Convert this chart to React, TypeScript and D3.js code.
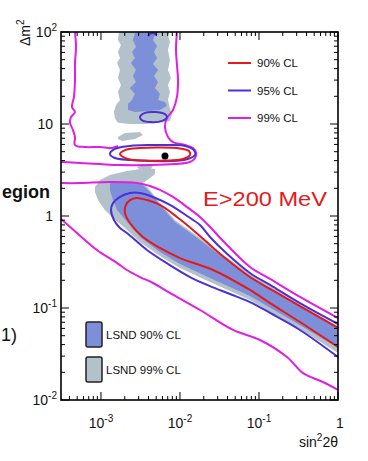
import React from 'react';
import * as d3 from 'd3';

// ---- data (sin^2 2theta, delta m^2) ----
const X_DOMAIN = [3.12e-4, 1];
const Y_DOMAIN = [0.01, 100];

const xTicks = [1e-3, 1e-2, 1e-1, 1];
const xTickLabels = [["10", "-3"], ["10", "-2"], ["10", "-1"], ["1", ""]];
const yTicks = [0.01, 0.1, 1, 10, 100];
const yTickLabels = [["10", "-2"], ["10", "-1"], ["1", ""], ["10", ""], ["10", "2"]];

const bestFit = [6.46e-3, 4.49];

// LSND 99% CL regions
const lsnd99Top = [[1.69e-3,100],[1.64e-3,81.9],[1.79e-3,72.2],[1.64e-3,60.6],[1.74e-3,52.2],[1.60e-3,46.0],[1.74e-3,38.6],[1.64e-3,31.6],[1.79e-3,26.5],[1.64e-3,22.3],[1.74e-3,18.2],[1.55e-3,16.1],[1.46e-3,13.5],[1.50e-3,11.6],[1.64e-3,10.3],[2.33e-3,10.0],[3.61e-3,10.0],[5.58e-3,10.3],[7.46e-3,10.8],[7.92e-3,12.5],[7.46e-3,14.9],[7.05e-3,18.2],[7.46e-3,22.3],[7.05e-3,26.5],[7.69e-3,31.6],[7.05e-3,38.6],[7.46e-3,49.6],[7.05e-3,63.7],[7.46e-3,77.9],[7.05e-3,92.7],[7.46e-3,100]];
const lsnd99Blob1 = [[1.64e-3,7.22],[2.01e-3,7.98],[3.12e-3,8.18],[3.40e-3,7.59],[2.69e-3,6.87],[1.85e-3,6.53],[1.64e-3,6.87]];
const lsnd99Blob2 = [[2.86e-3,3.41],[3.61e-3,3.58],[4.55e-3,3.49],[4.17e-3,3.16],[3.12e-3,3.16]];
const lsnd99Band = [[8.40e-4,2.07],[9.71e-4,2.46],[1.30e-3,2.79],[2.13e-3,3.08],[3.82e-3,3.32],[4.83e-3,3.24],[4.83e-3,2.86],[4.17e-3,2.59],[3.40e-3,2.28],[4.17e-3,1.92],[5.58e-3,1.38],[8.65e-3,0.905],[0.0179,0.577],[0.0372,0.367],[0.0769,0.234],[0.138,0.173],[0.330,0.110],[1,0.0637],[1,0.0324],[0.330,0.0591],[0.138,0.0905],[0.0769,0.122],[0.0240,0.192],[0.0100,0.272],[5.58e-3,0.367],[3.12e-3,0.521],[2.01e-3,0.741],[1.42e-3,0.951],[1.12e-3,1.16],[9.16e-4,1.49],[8.40e-4,1.82]];

// LSND 90% CL regions
const lsnd90Top = [[2.69e-3,97.5],[2.54e-3,81.9],[2.77e-3,68.8],[2.47e-3,60.6],[2.69e-3,52.2],[2.40e-3,46.0],[2.77e-3,38.6],[2.54e-3,33.3],[2.77e-3,28.6],[2.33e-3,24.6],[2.69e-3,21.2],[2.47e-3,18.2],[2.20e-3,16.5],[2.20e-3,14.2],[2.69e-3,13.5],[5.58e-3,14.2],[6.84e-3,15.7],[6.46e-3,17.3],[5.27e-3,18.2],[5.58e-3,21.2],[4.83e-3,24.6],[5.27e-3,28.6],[4.69e-3,33.3],[5.27e-3,38.6],[4.55e-3,44.9],[5.12e-3,52.2],[4.69e-3,60.6],[5.12e-3,70.5],[4.55e-3,81.9],[4.97e-3,97.5]];
const lsnd90Band = [[1,0.0607],[0.330,0.105],[0.138,0.165],[0.0769,0.223],[0.0372,0.341],[0.0179,0.548],[8.65e-3,0.861],[5.58e-3,1.32],[4.17e-3,1.82],[3.30e-3,2.23],[2.01e-3,2.34],[1.30e-3,2.28],[1.30e-3,1.92],[1.42e-3,1.49],[1.60e-3,1.16],[1.90e-3,0.975],[2.47e-3,0.741],[3.12e-3,0.591],[5.58e-3,0.406],[0.0100,0.301],[0.0240,0.212],[0.0769,0.135],[0.330,0.0653],[1,0.0367]];

// MiniBooNE 99% CL contour pieces
const cl99UpperLeft = [[4.69e-4,100],[4.83e-4,68.8],[4.69e-4,46.0],[4.69e-4,30.1],[4.55e-4,19.7],[4.30e-4,15.3],[4.69e-4,13.5],[4.17e-4,11.9],[4.06e-4,10.3],[4.42e-4,8.60],[4.69e-4,7.22],[4.69e-4,5.91],[6.27e-4,5.62],[9.71e-4,5.62],[1.38e-3,5.48],[1.64e-3,5.77]];
const cl99UpperRight = [[9.16e-3,100],[8.90e-3,63.7],[9.16e-3,43.8],[9.44e-3,30.1],[9.16e-3,19.7],[8.15e-3,14.2],[6.84e-3,11.6],[6.46e-3,9.27],[7.05e-3,7.22],[8.15e-3,6.37],[0.0116,5.91],[0.0146,5.48],[0.0160,4.84],[0.0155,4.27],[0.0134,3.86],[8.65e-3,3.67],[4.17e-3,3.58],[1.74e-3,3.58],[9.71e-4,3.67],[5.42e-4,3.77],[3.12e-4,3.86]];
const cl99Band = [[3.12e-4,2.28],[5.42e-4,2.28],[1.30e-3,2.34],[2.86e-3,2.28],[4.17e-3,2.12],[5.58e-3,1.92],[8.15e-3,1.61],[0.0123,1.25],[0.0179,0.975],[0.0254,0.722],[0.0372,0.509],[0.0769,0.279],[0.138,0.207],[0.330,0.132],[1,0.0778]];
const cl99Lower = [[3.12e-4,0.928],[4.97e-4,0.653],[8.90e-4,0.427],[1.60e-3,0.308],[2.13e-3,0.259],[3.12e-3,0.217],[4.55e-3,0.187],[7.46e-3,0.146],[0.0179,0.0951],[0.0469,0.0577],[0.103,0.0449],[0.226,0.0293],[0.361,0.0196],[0.646,0.0157],[1,0.0129]];

// MiniBooNE 95% CL contours
const cl95Island = [[1.30e-3,4.72],[1.50e-3,5.35],[2.33e-3,5.77],[4.17e-3,5.91],[7.46e-3,5.91],[0.0116,5.77],[0.0150,5.21],[0.0155,4.61],[0.0126,4.17],[7.46e-3,3.96],[4.17e-3,3.96],[2.33e-3,4.06],[1.50e-3,4.27]];
const cl95Small = [[3.12e-3,11.9],[3.61e-3,13.2],[4.83e-3,13.5],[6.46e-3,12.8],[6.84e-3,11.9],[5.92e-3,10.8],[4.17e-3,10.5],[3.30e-3,11.0]];
const cl95TopPiece = [[3.94e-3,90.5],[4.42e-3,97.5],[5.12e-3,92.7]];
const cl95Band = [[1,0.0670],[0.330,0.113],[0.138,0.178],[0.0769,0.240],[0.0372,0.406],[0.0240,0.591],[0.0179,0.798],[0.0123,1.0],[7.46e-3,1.32],[4.55e-3,1.61],[3.12e-3,1.78],[2.33e-3,1.78],[1.74e-3,1.61],[1.42e-3,1.38],[1.34e-3,1.16],[1.46e-3,0.905],[1.74e-3,0.741],[2.13e-3,0.653],[3.82e-3,0.427],[7.05e-3,0.301],[0.0134,0.217],[0.0240,0.173],[0.0430,0.142],[0.0769,0.116],[0.138,0.0883],[0.330,0.0577],[1,0.0293]];

// MiniBooNE 90% CL contours
const cl90Island = [[1.74e-3,4.72],[2.01e-3,5.21],[3.12e-3,5.48],[5.58e-3,5.55],[0.0100,5.42],[0.0130,5.09],[0.0134,4.61],[0.0109,4.17],[6.46e-3,4.01],[3.61e-3,4.01],[2.20e-3,4.17]];
const cl90Band = [[1,0.0607],[0.330,0.105],[0.138,0.161],[0.0769,0.217],[0.0372,0.349],[0.0240,0.484],[0.0146,0.705],[9.16e-3,0.975],[5.58e-3,1.32],[3.82e-3,1.49],[2.86e-3,1.57],[2.33e-3,1.49],[2.07e-3,1.32],[2.01e-3,1.08],[2.33e-3,0.839],[3.40e-3,0.591],[5.58e-3,0.449],[0.0100,0.349],[0.0262,0.259],[0.0769,0.157],[0.138,0.113],[0.330,0.0704],[1,0.0377]];

const clLegend = ["90% CL", "95% CL", "99% CL"];
const lsndLegend = ["LSND 90% CL", "LSND 99% CL"];

// ---- styles ----
const RED = "#e4191c";
const BLUE = "#4a30d6";
const MAG = "#e01ee4";
const L90 = "#7d8fd9";
const L99 = "#b3c1ca";
const FONT = "'Liberation Sans', Arial, Helvetica, sans-serif";

const PL = 61, PR = 338, PT = 32, PB = 400;

export default function App() {
  const x = d3.scaleLog().domain(X_DOMAIN).range([PL, PR]);
  const y = d3.scaleLog().domain(Y_DOMAIN).range([PB, PT]);
  const smooth = d3.line<number[]>().x(d => x(d[0])).y(d => y(d[1])).curve(d3.curveCatmullRom.alpha(0.5));
  const smoothClosed = d3.line<number[]>().x(d => x(d[0])).y(d => y(d[1])).curve(d3.curveCatmullRomClosed.alpha(0.5));
  const poly = d3.line<number[]>().x(d => x(d[0])).y(d => y(d[1])).curve(d3.curveLinearClosed);

  const xMinor: number[] = [];
  for (let n = -4; n <= -1; n++) for (let k = 2; k <= 9; k++) {
    const v = k * Math.pow(10, n);
    if (v > X_DOMAIN[0] && v < X_DOMAIN[1]) xMinor.push(v);
  }
  const yMinor: number[] = [];
  for (let n = -2; n <= 1; n++) for (let k = 2; k <= 9; k++) yMinor.push(k * Math.pow(10, n));

  const lw = 2;
  return (
    <svg width={368} height={461} style={{ position: 'absolute', left: 0, top: 0, background: '#fff' }} fontFamily={FONT}>
      <defs>
        <clipPath id="plotclip"><rect x={PL} y={PT} width={PR - PL} height={PB - PT} /></clipPath>
      </defs>
      <rect x={0} y={0} width={368} height={461} fill="#fff" />
      <g clipPath="url(#plotclip)">
        {[lsnd99Top, lsnd99Blob1, lsnd99Blob2, lsnd99Band].map((p, i) => (
          <path key={'g' + i} d={poly(p) || ''} fill={L99} stroke="none" />
        ))}
        {[lsnd90Top, lsnd90Band].map((p, i) => (
          <path key={'b' + i} d={poly(p) || ''} fill={L90} stroke="none" />
        ))}
        {[cl99UpperLeft, cl99UpperRight, cl99Band, cl99Lower].map((p, i) => (
          <path key={'m' + i} d={smooth(p) || ''} fill="none" stroke={MAG} strokeWidth={lw} />
        ))}
        <path d={smoothClosed(cl95Island) || ''} fill="none" stroke={BLUE} strokeWidth={lw} />
        <path d={smoothClosed(cl95Small) || ''} fill="none" stroke={BLUE} strokeWidth={lw} />
        <path d={smooth(cl95TopPiece) || ''} fill="none" stroke={BLUE} strokeWidth={lw} />
        <path d={smooth(cl95Band) || ''} fill="none" stroke={BLUE} strokeWidth={lw} />
        <path d={smoothClosed(cl90Island) || ''} fill="none" stroke={RED} strokeWidth={lw} />
        <path d={smooth(cl90Band) || ''} fill="none" stroke={RED} strokeWidth={lw} />
        <circle cx={x(bestFit[0])} cy={y(bestFit[1])} r={3.5} fill="#000" />
      </g>

      {/* frame */}
      <rect x={PL} y={PT} width={PR - PL} height={PB - PT} fill="none" stroke="#000" strokeWidth={1.6} />
      {/* ticks */}
      {xTicks.map(t => (
        <g key={'xt' + t}>
          <line x1={x(t)} x2={x(t)} y1={PB} y2={PB - 8} stroke="#000" strokeWidth={1} />
          <line x1={x(t)} x2={x(t)} y1={PT} y2={PT + 8} stroke="#000" strokeWidth={1} />
        </g>
      ))}
      {xMinor.map(t => (
        <g key={'xm' + t}>
          <line x1={x(t)} x2={x(t)} y1={PB} y2={PB - 4} stroke="#000" strokeWidth={1} />
          <line x1={x(t)} x2={x(t)} y1={PT} y2={PT + 4} stroke="#000" strokeWidth={1} />
        </g>
      ))}
      {yTicks.map(t => (
        <g key={'yt' + t}>
          <line x1={PL} x2={PL + 8} y1={y(t)} y2={y(t)} stroke="#000" strokeWidth={1} />
          <line x1={PR} x2={PR - 8} y1={y(t)} y2={y(t)} stroke="#000" strokeWidth={1} />
        </g>
      ))}
      {yMinor.map(t => (
        <g key={'ym' + t}>
          <line x1={PL} x2={PL + 4} y1={y(t)} y2={y(t)} stroke="#000" strokeWidth={1} />
          <line x1={PR} x2={PR - 4} y1={y(t)} y2={y(t)} stroke="#000" strokeWidth={1} />
        </g>
      ))}

      {/* tick labels */}
      {xTicks.map((t, i) => (
        <text key={'xl' + t} x={x(t) + (xTickLabels[i][1] ? 0 : 2)} y={428} fontSize={14} textAnchor="middle" fill="#111">
          {xTickLabels[i][0]}
          {xTickLabels[i][1] ? <tspan fontSize={10} dy={-6}>{xTickLabels[i][1]}</tspan> : null}
        </text>
      ))}
      {yTicks.map((t, i) => (
        <text key={'yl' + t} x={yTickLabels[i][1] ? 57 : 53} y={y(t) + 5} fontSize={14} textAnchor="end" fill="#111">
          {yTickLabels[i][0]}
          {yTickLabels[i][1] ? <tspan fontSize={10} dy={-6}>{yTickLabels[i][1]}</tspan> : null}
        </text>
      ))}
      <text x={338} y={447} fontSize={14} textAnchor="end" fill="#111">
        sin<tspan fontSize={10} dy={-6}>2</tspan><tspan dy={6}>2θ</tspan>
      </text>
      <text transform="translate(30,46) rotate(-90)" fontSize={14} fill="#111">
        Δm<tspan fontSize={10} dy={-6}>2</tspan>
      </text>

      {/* CL legend */}
      {clLegend.map((s, i) => (
        <g key={'cl' + s}>
          <line x1={228} x2={251} y1={63 + i * 27.5} y2={63 + i * 27.5} stroke={[RED, BLUE, MAG][i]} strokeWidth={2} />
          <text x={257} y={63 + i * 27.5 + 4} fontSize={11.5} fill="#111">{s}</text>
        </g>
      ))}
      {/* LSND legend */}
      {lsndLegend.map((s, i) => (
        <g key={'ls' + s}>
          <rect x={86} y={322 + i * 35} width={16} height={25} rx={2} fill={[L90, L99][i]} stroke="#222" strokeWidth={1.5} />
          <text x={106} y={339 + i * 35} fontSize={11.5} fill="#111">{s}</text>
        </g>
      ))}

      <text x={203} y={206} fontSize={21} fill={RED} textLength={124} lengthAdjust="spacingAndGlyphs">E&gt;200 MeV</text>

      {/* cropped neighbouring text */}
      <text x={50} y={198} fontSize={18} fontWeight="bold" textAnchor="end" fill="#111">egion</text>
      <text x={1} y={341} fontSize={18} textAnchor="start" fill="#111">1)</text>
    </svg>
  );
}
